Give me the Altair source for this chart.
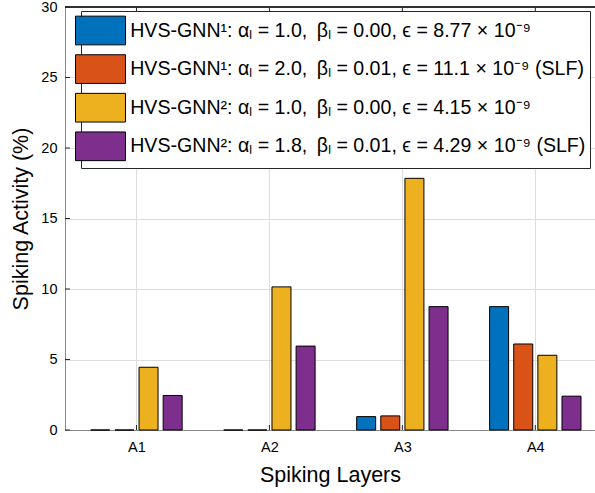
import altair as alt
import pandas as pd

# ---- data ----
layers = ["A1", "A2", "A3", "A4"]
series = [
    "HVS-GNN\u00b9: \u03b1\u2097 = 1.0,\u2009 \u03b2\u2097 = 0.00, \u03f5 = 8.77 \u00d7 10\u207b\u2079",
    "HVS-GNN\u00b9: \u03b1\u2097 = 2.0,\u2009 \u03b2\u2097 = 0.01, \u03f5 = 11.1 \u00d7 10\u207b\u2079 (SLF)",
    "HVS-GNN\u00b2: \u03b1\u2097 = 1.0,\u2009 \u03b2\u2097 = 0.00, \u03f5 = 4.15 \u00d7 10\u207b\u2079",
    "HVS-GNN\u00b2: \u03b1\u2097 = 1.8,\u2009 \u03b2\u2097 = 0.01, \u03f5 = 4.29 \u00d7 10\u207b\u2079 (SLF)",
]
gnn1_base = [0.0, 0.0, 0.95, 8.75]
gnn1_slf = [0.0, 0.0, 1.0, 6.1]
gnn2_base = [4.45, 10.15, 17.85, 5.3]
gnn2_slf = [2.45, 5.95, 8.75, 2.4]
colors = ["#0072BD", "#D95319", "#EDB120", "#7E2F8E"]
y_ticks = [0, 5, 10, 15, 20, 25, 30]
x_ticks = [1, 2, 3, 4]

rows = []
for si, (name, vals) in enumerate(zip(series, [gnn1_base, gnn1_slf, gnn2_base, gnn2_slf])):
    for li, (lay, v) in enumerate(zip(layers, vals)):
        rows.append({"layer": lay, "series": name, "value": v, "li": li + 1, "si": si})
df = pd.DataFrame(rows)
yt = pd.DataFrame({"value": y_ticks})
xt = pd.DataFrame({"pos": x_ticks})

W, H = 530, 423
FONT = "Liberation Sans"
AX = "#262626"

xscale = alt.Scale(domain=[0.5, 0.5 + W / 135.5], nice=False, zero=False)
yscale = alt.Scale(domain=[0, 30], nice=False, zero=True)

xaxis = alt.Axis(values=x_ticks, labelExpr="'A' + datum.value",
                 title="Spiking Layers", labelFlush=False,
                 labelPadding=10, titlePadding=11, ticks=False, tickSize=0,
                 labelFontSize=14.5, titleFontSize=21.5, titleFontWeight="normal")
yaxis = alt.Axis(values=y_ticks, title="Spiking Activity (%)",
                 labelPadding=8, titlePadding=8, ticks=False, tickSize=0,
                 labelFontSize=14.5, titleFontSize=21.5, titleFontWeight="normal")

S = 28.7
legend_path = "M-1.742,-1H1.742V1H-1.742Z"

bars = alt.Chart(df).transform_calculate(
    pos="datum.li + (datum.si - 1.5) * 0.1815"
).mark_bar(size=19, stroke="black", strokeWidth=1, orient="vertical").encode(
    x=alt.X("pos:Q", scale=xscale, axis=xaxis),
    y=alt.Y("value:Q", scale=yscale, axis=yaxis),
    color=alt.Color("series:N", scale=alt.Scale(domain=series, range=colors),
                    legend=alt.Legend(title=None, orient="none", legendX=16, legendY=4,
                                      fillColor="white", strokeColor=AX, padding=4.5,
                                      symbolType=legend_path, symbolSize=S * S,
                                      symbolStrokeColor="black", symbolStrokeWidth=1,
                                      symbolOpacity=1, symbolOffset=0,
                                      labelFontSize=19.6, labelFont=FONT, labelColor="black",
                                      labelLimit=0, labelOffset=14.7, rowPadding=4.6)),
)

ytick_marks = alt.Chart(yt).mark_rule(color=AX, strokeWidth=1).encode(
    y=alt.Y("value:Q", scale=yscale, axis=yaxis), x=alt.value(0), x2=alt.value(5))
xtick_top = alt.Chart(xt).mark_rule(color=AX, strokeWidth=1).encode(
    x=alt.X("pos:Q", scale=xscale, axis=xaxis), y=alt.value(0), y2=alt.value(5))
xtick_bot = alt.Chart(xt).mark_rule(color=AX, strokeWidth=1).encode(
    x=alt.X("pos:Q", scale=xscale, axis=xaxis), y=alt.value(H), y2=alt.value(H - 5))
top_line = alt.Chart(xt).mark_rule(color=AX, strokeWidth=1).encode(
    y=alt.value(0), x=alt.value(0), x2=alt.value(W))

chart = alt.layer(bars, ytick_marks, xtick_top, xtick_bot, top_line).properties(
    width=W, height=H,
    padding={"left": 65, "top": 7, "right": 0, "bottom": 63},
    autosize=alt.AutoSizeParams(type="none"),
).configure_view(stroke=None).configure_axis(
    labelFont=FONT, titleFont=FONT, labelColor=AX, titleColor=AX,
    titleFontWeight="normal", domainColor=AX, domainWidth=1,
    gridColor="#e0e0e0", gridWidth=1, labelOverlap=False,
).configure(background="white")

chart.save("out.html", embed_options={"renderer": "svg", "actions": False})
